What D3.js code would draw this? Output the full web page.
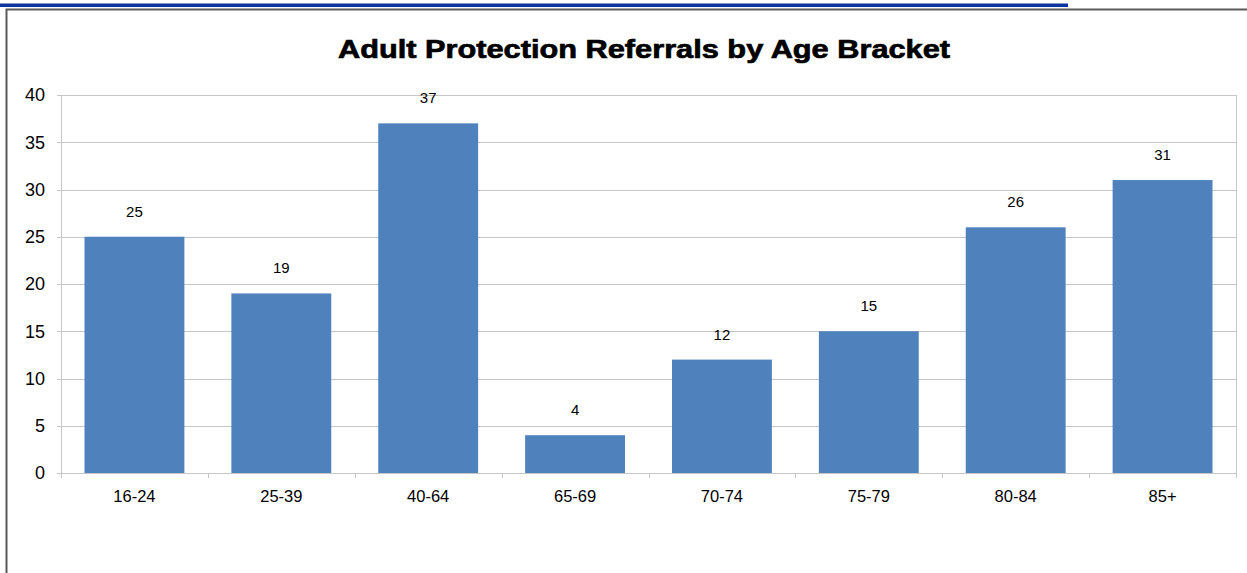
<!DOCTYPE html>
<html>
<head>
<meta charset="utf-8">
<script src="https://cdn.jsdelivr.net/npm/d3@7"></script>
<style>
  html, body { margin: 0; padding: 0; background: #fff; overflow: hidden; }
  svg { display: block; font-family: "Liberation Sans", Arial, sans-serif; }
</style>
</head>
<body>
<svg id="chart" width="1247" height="573"></svg>
<script>
// Referral counts per age bracket
const categories = ["16-24", "25-39", "40-64", "65-69", "70-74", "75-79", "80-84", "85+"];
const referrals = [25, 19, 37, 4, 12, 15, 26, 31];
const yTicks = [0, 5, 10, 15, 20, 25, 30, 35, 40];
const title = "Adult Protection Referrals by Age Bracket";

const svg = d3.select("#chart");
const W = 1247, H = 573;

// link underline running along the top edge
svg.append("rect")
  .attr("x", 0).attr("y", 3.5).attr("width", 1068).attr("height", 3.5)
  .attr("fill", "#0a349e");

// chart frame
svg.append("path")
  .attr("d", `M6.5,${H + 2}V9.5H${W + 2}`)
  .attr("fill", "none").attr("stroke", "#5a5a5a").attr("stroke-width", 2);

// title
svg.append("text")
  .attr("x", 644).attr("y", 58)
  .attr("text-anchor", "middle")
  .attr("font-size", 26).attr("font-weight", "bold")
  .attr("textLength", 612).attr("lengthAdjust", "spacingAndGlyphs")
  .attr("fill", "#000")
  .attr("stroke", "#000").attr("stroke-width", 0.7)
  .text(title);

const plot = { left: 61, right: 1236, top: 95, bottom: 473 };

const x = d3.scaleBand()
  .domain(categories)
  .range([plot.left, plot.right])
  .paddingInner(0.32).paddingOuter(0.16);

const y = d3.scaleLinear()
  .domain([0, 40])
  .range([plot.bottom, plot.top]);

const grid = "#c6c6c6";

// horizontal gridlines
svg.append("g")
  .selectAll("line")
  .data(yTicks)
  .join("line")
  .attr("x1", plot.left - 4).attr("x2", plot.right)
  .attr("y1", d => Math.round(y(d)) + 0.5).attr("y2", d => Math.round(y(d)) + 0.5)
  .attr("stroke", grid).attr("stroke-width", 1);

// plot area sides
svg.append("line")
  .attr("x1", plot.left + 0.5).attr("x2", plot.left + 0.5)
  .attr("y1", plot.top).attr("y2", plot.bottom + 5)
  .attr("stroke", grid);
svg.append("line")
  .attr("x1", plot.right + 0.5).attr("x2", plot.right + 0.5)
  .attr("y1", plot.top).attr("y2", plot.bottom)
  .attr("stroke", grid);

// y axis labels
const yAxis = d3.axisLeft(y).tickValues(yTicks).tickSize(0).tickPadding(16);
const yg = svg.append("g").attr("transform", `translate(${plot.left},0)`).call(yAxis);
yg.select(".domain").remove();
yg.selectAll("text")
  .attr("font-size", 18).attr("font-family", "Liberation Sans, Arial, sans-serif")
  .attr("fill", "#000");

// category separators below the axis
svg.append("g")
  .selectAll("line")
  .data(d3.range(1, categories.length + 1))
  .join("line")
  .attr("x1", i => Math.round(plot.left + (plot.right - plot.left) * i / categories.length) + 0.5)
  .attr("x2", i => Math.round(plot.left + (plot.right - plot.left) * i / categories.length) + 0.5)
  .attr("y1", plot.bottom).attr("y2", plot.bottom + 5)
  .attr("stroke", grid);

// x axis labels
const xAxis = d3.axisBottom(x).tickSize(0).tickPadding(17);
const xg = svg.append("g").attr("transform", `translate(0,${plot.bottom})`).call(xAxis);
xg.select(".domain").remove();
xg.selectAll("text")
  .attr("font-size", 16.5).attr("font-family", "Liberation Sans, Arial, sans-serif")
  .attr("fill", "#000");

// bars
svg.append("g")
  .selectAll("rect")
  .data(categories.map((c, i) => ({ c, v: referrals[i] })))
  .join("rect")
  .attr("x", d => x(d.c))
  .attr("y", d => y(d.v))
  .attr("width", x.bandwidth())
  .attr("height", d => y(0) - y(d.v))
  .attr("fill", "#4f81bd");

// value labels
svg.append("g")
  .selectAll("text")
  .data(categories.map((c, i) => ({ c, v: referrals[i] })))
  .join("text")
  .attr("x", d => x(d.c) + x.bandwidth() / 2)
  .attr("y", d => y(d.v) - 20)
  .attr("text-anchor", "middle")
  .attr("font-size", 15)
  .attr("fill", "#000")
  .text(d => d.v);
</script>
</body>
</html>
